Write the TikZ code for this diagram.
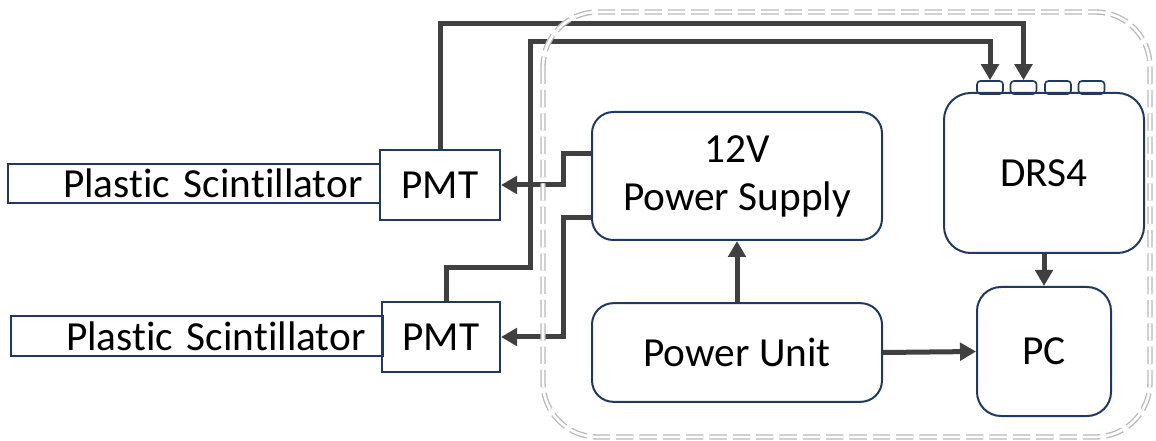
\documentclass[tikz,border=0pt]{standalone}
\usepackage{fontspec}
\setmainfont{Carlito}[RawFeature=-liga]
\usepackage{tikz}
\usetikzlibrary{positioning, arrows.meta}
\definecolor{navy}{HTML}{1F3864}
\definecolor{wiregray}{HTML}{404040}

\begin{document}
\begin{tikzpicture}[x=0.75pt, y=-0.75pt,
    blk/.style={draw=navy, line width=1.5pt, align=center, inner sep=0pt,
        font=\fontsize{31}{36}\selectfont},
    rblk/.style={blk, rounded corners=16pt},
    scint/.style={blk, align=right, inner xsep=12.75pt, text width=253pt,
        minimum height=29.5pt},
    port/.style={draw=navy, line width=1.2pt, rounded corners=2.5pt,
        minimum width=19.5pt, minimum height=9.75pt, inner sep=0pt},
    wire/.style={draw=wiregray, line width=3.75pt},
    arr/.style={wire, -{Triangle[width=13pt, length=12pt]}}]
    \useasboundingbox (0,0) rectangle (1156,441);

    % Detectors: scintillators with photomultipliers
    \node[scint] (scintA) at (194,183.5) {Plastic Scintillator};
    \node[scint] (scintB) at (197,336) {Plastic Scintillator};
    \node[blk, minimum width=90pt, minimum height=52.5pt] (pmtA) at (440,185) {PMT};
    \node[blk, minimum width=88.5pt, minimum height=52.5pt] (pmtB) at (441,337) {PMT};

    % Readout box
    \node[rblk, minimum width=217.5pt, minimum height=96pt] (psu) at (737,176)
        {12V\\Power Supply};
    \node[rblk, minimum width=217.5pt, minimum height=74pt] (unit) at (737,352.5)
        {Power Unit};
    \node[rblk, rounded corners=20pt, minimum width=150pt, minimum height=120pt]
        (drs) at (1044,173) {DRS4};
    \node[rblk, rounded corners=18pt, minimum width=100.5pt, minimum height=96.75pt]
        (pc) at (1044,351.5) {PC};

    % Input channels on top of the DRS4
    \node[port] (portA) at (990,87.5) {};
    \node[port] (portB) at (1023.5,87.5) {};
    \node[port] (portC) at (1058,87.5) {};
    \node[port] (portD) at (1091.5,87.5) {};

    % Signal cables
    \draw[arr] (pmtA.north) -- ++(0,-125) -| (portB.north);
    \draw[arr] ([xshift=4pt]pmtB.north) |- (530,268) -- (530,42) -| (portA.north);

    % High voltage to the PMTs
    \draw[arr] ([yshift=17pt]psu.west) -| (563,185) -- (pmtA.east);
    \draw[arr] ([yshift=-31pt]psu.west) -| (563,337) -- (pmtB.east);

    % Power and data
    \draw[arr] (unit.north) -- (psu.south);
    \draw[arr] (unit.east) -- (pc.west);
    \draw[arr] (drs.south) -- (pc.north);

    % Enclosure
    \draw[draw=gray!55, line width=1pt, double=white, double distance=2pt,
        dash pattern=on 13pt off 4.5pt, rounded corners=41pt]
        (543,12) rectangle (1150,437);
\end{tikzpicture}
\end{document}
